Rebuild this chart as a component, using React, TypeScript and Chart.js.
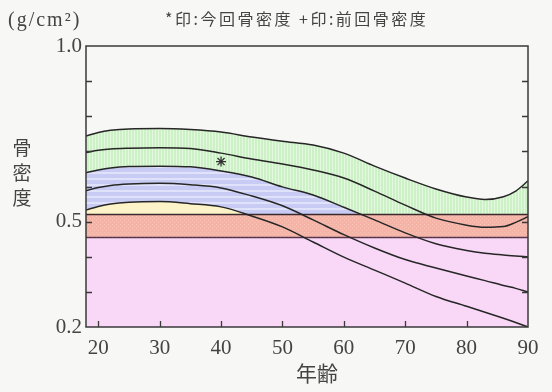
import React, { useEffect, useRef } from "react";
import { Chart, registerables } from "chart.js";
Chart.register(...registerables);

// ---- data ----
const ages = [18, 20, 22, 25, 30, 35, 40, 45, 50, 55, 60, 65, 70, 75, 80, 83, 86, 88, 90];
const plus2SD = [0.744, 0.754, 0.76, 0.764, 0.765, 0.762, 0.755, 0.741, 0.729, 0.718, 0.695, 0.658, 0.624, 0.593, 0.57, 0.563, 0.571, 0.587, 0.616];
const plus1SD = [0.697, 0.703, 0.707, 0.709, 0.71, 0.708, 0.695, 0.678, 0.664, 0.647, 0.624, 0.587, 0.547, 0.51, 0.49, 0.484, 0.486, 0.498, 0.514];
const meanBMD = [0.639, 0.647, 0.653, 0.657, 0.658, 0.656, 0.644, 0.627, 0.599, 0.576, 0.541, 0.505, 0.468, 0.437, 0.418, 0.41, 0.405, 0.402, 0.4];
const minus1SD = [0.588, 0.597, 0.603, 0.607, 0.609, 0.605, 0.596, 0.573, 0.545, 0.505, 0.463, 0.425, 0.392, 0.368, 0.345, 0.332, 0.318, 0.31, 0.3];
const minus2SD = [0.533, 0.543, 0.55, 0.555, 0.557, 0.551, 0.542, 0.516, 0.485, 0.442, 0.399, 0.362, 0.325, 0.287, 0.259, 0.242, 0.225, 0.213, 0.2];
const thresholdHigh = 0.52;
const thresholdLow = 0.455;
const currentAge = [40];
const currentBMD = [0.671];
const xTicks = [20, 30, 40, 50, 60, 70, 80, 90];
const yTicks = [0.2, 0.3, 0.4, 0.5, 0.6, 0.7, 0.8, 0.9, 1.0];
const yLabeled = [0.2, 0.5, 1.0];

const unitLabel = "(g/cm²)";
const legendText = "*印:今回骨密度 +印:前回骨密度";
const yTitle = ["骨", "密", "度"];
const xTitle = "年齢";

function makePattern(w: number, h: number, draw: (c: CanvasRenderingContext2D) => void) {
  const cv = document.createElement("canvas");
  cv.width = w;
  cv.height = h;
  const c = cv.getContext("2d")!;
  draw(c);
  return c.createPattern(cv, "repeat")!;
}

const pts = (ys: number[]) => ages.map((a, i) => ({ x: a, y: ys[i] }));
const flat = (v: number) => ages.map((a) => ({ x: a, y: v }));

export default function App() {
  const ref = useRef<HTMLCanvasElement>(null);
  useEffect(() => {
    const green = makePattern(3, 3, (c) => {
      c.fillStyle = "#cdf1c6";
      c.fillRect(0, 0, 3, 3);
      c.fillStyle = "#e4f8df";
      c.fillRect(2, 0, 1, 3);
    });
    const blue = makePattern(6, 6, (c) => {
      c.fillStyle = "#c8ccf4";
      c.fillRect(0, 0, 6, 6);
      c.fillStyle = "#e0e2f9";
      c.fillRect(0, 4, 6, 2);
    });
    const yellow = "#fcf4c8";
    const red = makePattern(4, 4, (c) => {
      c.fillStyle = "#f6b4a7";
      c.fillRect(0, 0, 4, 4);
      c.fillStyle = "#f8c3b8";
      c.fillRect(0, 0, 1, 1);
      c.fillRect(2, 2, 1, 1);
    });
    const pink = "#f8d8f6";
    const none = "rgba(0,0,0,0)";
    const lineCol = "#262626";

    const serif = '"Liberation Serif", "DejaVu Serif", serif';
    const cjk = '"Noto Sans CJK JP", sans-serif';

    const deco = {
      id: "deco",
      afterDatasetsDraw(chart: any) {
        const { ctx, chartArea: a, scales } = chart;
        ctx.save();
        ctx.strokeStyle = "#3a3a3a";
        ctx.lineWidth = 1.5;
        ctx.strokeRect(a.left, a.top, a.right - a.left, a.bottom - a.top);
        ctx.lineWidth = 1.3;
        ctx.beginPath();
        yTicks.forEach((v) => {
          if (v <= 0.2 || v >= 1.0) return;
          const y = Math.round(scales.y.getPixelForValue(v)) + 0.5;
          ctx.moveTo(a.left, y);
          ctx.lineTo(a.left + 6, y);
          ctx.moveTo(a.right - 6, y);
          ctx.lineTo(a.right, y);
        });
        xTicks.forEach((v) => {
          if (v >= 90) return;
          const x = Math.round(scales.x.getPixelForValue(v)) + 0.5;
          ctx.moveTo(x, a.bottom);
          ctx.lineTo(x, a.bottom - 6);
        });
        ctx.stroke();
        ctx.restore();
      },
      afterDraw(chart: any) {
        const { ctx } = chart;
        ctx.save();
        ctx.fillStyle = "#444";
        ctx.textBaseline = "middle";
        ctx.textAlign = "left";
        ctx.font = "20px " + serif;
        (ctx as any).letterSpacing = "2px";
        ctx.fillText(unitLabel, 8, 21);
        ctx.font = "16px " + cjk;
        (ctx as any).letterSpacing = "2.5px";
        ctx.fillText(legendText, 165, 19);
        (ctx as any).letterSpacing = "0px";
        ctx.textAlign = "center";
        ctx.font = "19px " + cjk;
        yTitle.forEach((ch, i) => ctx.fillText(ch, 22, 148 + i * 25));
        ctx.font = "21px " + cjk;
        ctx.fillText(xTitle, 317, 373);
        ctx.restore();
      },
    };

    const curve = (ys: number[], fill: any) => ({
      data: pts(ys),
      borderColor: lineCol,
      borderWidth: 1.5,
      pointRadius: 0,
      cubicInterpolationMode: "monotone",
      fill,
      backgroundColor: none,
    });

    const chart = new Chart(ref.current!, {
      type: "line",
      data: {
        datasets: [
          curve(minus2SD, { target: 5, above: yellow, below: none }),
          curve(meanBMD, { target: 5, above: blue, below: none }),
          curve(plus2SD, { target: 5, above: green, below: none }),
          curve(plus1SD, false),
          curve(minus1SD, false),
          {
            data: flat(thresholdHigh),
            borderColor: "#3a2a2e",
            borderWidth: 1.5,
            pointRadius: 0,
            fill: 6,
            backgroundColor: red,
          },
          {
            data: flat(thresholdLow),
            borderColor: "#5a3448",
            borderWidth: 1.5,
            pointRadius: 0,
            fill: "start",
            backgroundColor: pink,
          },
          {
            data: currentAge.map((a, i) => ({ x: a, y: currentBMD[i] })),
            showLine: false,
            pointStyle: "star",
            pointRadius: 5,
            borderColor: "#333",
            borderWidth: 1.3,
            backgroundColor: none,
          },
        ] as any,
      },
      options: {
        animation: false,
        responsive: false,
        events: [],
        layout: { padding: { left: 0, right: 24, top: 46, bottom: 0 } },
        plugins: {
          legend: { display: false },
          tooltip: { enabled: false },
          filler: { drawTime: "beforeDatasetsDraw" } as any,
        },
        scales: {
          x: {
            type: "linear",
            min: 18,
            max: 90,
            grid: { display: false, drawTicks: false },
            border: { display: false },
            afterBuildTicks: (s: any) => {
              s.ticks = xTicks.map((v) => ({ value: v }));
            },
            afterFit: (s: any) => {
              s.height = 65;
            },
            ticks: {
              autoSkip: false,
              maxRotation: 0,
              padding: 9,
              color: "#444",
              font: { family: serif, size: 21 },
              callback: (v: any) => String(v),
            },
          },
          y: {
            type: "linear",
            min: 0.2,
            max: 1.0,
            grid: { display: false, drawTicks: false },
            border: { display: false },
            afterBuildTicks: (s: any) => {
              s.ticks = yTicks.map((v) => ({ value: v }));
            },
            afterFit: (s: any) => {
              s.width = 86;
            },
            ticks: {
              autoSkip: false,
              padding: 4,
              color: "#444",
              font: { family: serif, size: 21 },
              callback: (v: any) =>
                yLabeled.some((l) => Math.abs(l - Number(v)) < 1e-6) ? Number(v).toFixed(1) : "",
            },
          },
        },
      },
      plugins: [deco],
    });
    return () => chart.destroy();
  }, []);

  return (
    <div style={{ position: "fixed", left: 0, top: 0, width: 552, height: 392, background: "#f7f7f5" }}>
      <canvas ref={ref} width={552} height={392} style={{ display: "block" }} />
    </div>
  );
}
